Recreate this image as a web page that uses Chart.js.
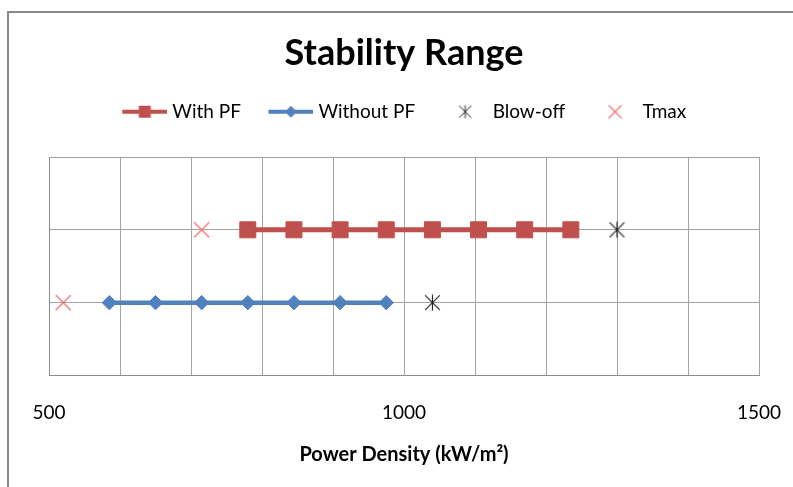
<!DOCTYPE html>
<html><head><meta charset="utf-8">
<script src="https://cdn.jsdelivr.net/npm/chart.js@4"></script>
<style>
html,body{margin:0;padding:0;background:#fff;overflow:hidden;width:793px;height:487px;}
#frame{position:absolute;left:7px;top:11px;width:900px;height:600px;border-left:2px solid #898989;border-top:2px solid #898989;}
#wrap{position:absolute;left:0;top:0;width:793px;height:487px;}
</style></head><body>
<div id="frame"></div>
<div id="wrap"><canvas id="c" width="793" height="487"></canvas></div>
<script>
// ---- data ----
const chartTitle = 'Stability Range';
const xAxisTitle = 'Power Density (kW/m²)';
const seriesNames = ['With PF', 'Without PF', 'Blow-off', 'Tmax'];
const withPF = [780, 845, 910, 975, 1040, 1105, 1170, 1235];
const withoutPF = [585, 650, 715, 780, 845, 910, 975];
const blowOff = [1300, 1040];
const tmax = [715, 520];
const rowLevels = [2, 1];          // row of "With PF", row of "Without PF"
const xTickLabels = [500, 1000, 1500];
const xMin = 500, xMax = 1500, xStep = 100;
const yMin = 0, yMax = 3;

// ---- styles ----
const RED = '#C0504D', BLUE = '#4F81BD', STAR = '#1A1A1A', TMAXC = '#F26A6A';
const FONT = 'Lato, "Open Sans", sans-serif';

function mk(w, h, draw) { const c = document.createElement('canvas'); c.width = w; c.height = h; draw(c.getContext('2d'), w, h); return c; }
function starImg(s, col, lw) {
  return mk(s, s, (g) => {
    g.strokeStyle = col; g.lineWidth = lw; g.beginPath();
    const c = s / 2, r = s / 2 - 0.5;
    g.moveTo(c, c - r); g.lineTo(c, c + r);
    const d = r * 0.92;
    g.moveTo(c - d, c - d); g.lineTo(c + d, c + d);
    g.moveTo(c - d, c + d); g.lineTo(c + d, c - d);
    g.stroke();
  });
}
function xImg(s, col, lw) {
  return mk(s, s, (g) => {
    g.strokeStyle = col; g.lineWidth = lw; g.beginPath();
    g.moveTo(1, 1); g.lineTo(s - 1, s - 1);
    g.moveTo(1, s - 1); g.lineTo(s - 1, 1);
    g.stroke();
  });
}
const starPoint = starImg(17, STAR, 1.1);
const xPoint = xImg(17, TMAXC, 1.3);

// legend symbols (content 45px wide, shifted so the text gap matches)
const LBW = 41, LW = 50, LH = 18;
function legLine(col, marker) {
  return mk(LW, LH, (g) => {
    g.strokeStyle = col; g.lineWidth = 4; g.beginPath();
    g.moveTo(5, LH / 2); g.lineTo(50, LH / 2); g.stroke();
    g.fillStyle = col; const cx = 27.5, cy = LH / 2;
    if (marker === 'rect') { g.fillRect(cx - 6, cy - 6, 12, 12); }
    else { g.beginPath(); g.moveTo(cx - 6, cy); g.lineTo(cx, cy - 6); g.lineTo(cx + 6, cy); g.lineTo(cx, cy + 6); g.closePath(); g.fill(); }
  });
}
function legMarker(img) {
  return mk(LW, LH, (g) => { g.drawImage(img, 27.5 - img.width / 2, LH / 2 - img.height / 2); });
}
const legendSymbols = [legLine(RED, 'rect'), legLine(BLUE, 'diamond'), legMarker(starImg(14, STAR, 1)), legMarker(xImg(15, TMAXC, 1.2))];

const pts = (xs, y) => xs.map(x => ({ x, y }));

new Chart(document.getElementById('c'), {
  type: 'scatter',
  data: {
    datasets: [
      { label: seriesNames[0], data: pts(withPF, rowLevels[0]), showLine: true, borderColor: RED, backgroundColor: RED, borderWidth: 5,
        pointStyle: 'rect', pointRadius: 11.3, pointBorderWidth: 1, pointBorderColor: RED, pointBackgroundColor: RED },
      { label: seriesNames[1], data: pts(withoutPF, rowLevels[1]), showLine: true, borderColor: BLUE, backgroundColor: BLUE, borderWidth: 4.5,
        pointStyle: 'rectRot', pointRadius: 7.2, pointBorderWidth: 1, pointBorderColor: BLUE, pointBackgroundColor: BLUE },
      { label: seriesNames[2], data: blowOff.map((x, i) => ({ x, y: rowLevels[i] })), showLine: false, pointStyle: starPoint, pointRadius: 8 },
      { label: seriesNames[3], data: tmax.map((x, i) => ({ x, y: rowLevels[i] })), showLine: false, pointStyle: xPoint, pointRadius: 8 }
    ]
  },
  options: {
    responsive: false, animation: false, devicePixelRatio: 1,
    layout: { padding: { left: 49, right: 34, top: 0, bottom: 0 } },
    plugins: {
      tooltip: { enabled: false },
      title: { display: true, text: chartTitle, color: '#000', font: { family: FONT, size: 36, weight: 'bold', lineHeight: 1.2 }, padding: { top: 32, bottom: 0 } },
      legend: {
        display: true, position: 'top',
        labels: {
          usePointStyle: true, pointStyleWidth: LBW, padding: 27, color: '#000',
          font: { family: FONT, size: 19 },
          generateLabels: (chart) => chart.data.datasets.map((ds, i) => ({
            text: ds.label, pointStyle: legendSymbols[i], fillStyle: 'transparent', strokeStyle: 'transparent', lineWidth: 0,
            hidden: false, datasetIndex: i, fontColor: '#000'
          }))
        }
      }
    },
    scales: {
      x: {
        type: 'linear', position: 'bottom', min: xMin, max: xMax,
        afterFit: (s) => { s.height = 111.5; s.paddingLeft = 0; s.paddingRight = 0; },
        ticks: { stepSize: xStep, padding: 26, color: '#000', font: { family: FONT, size: 19 }, maxRotation: 0, autoSkip: false,
          callback: (v) => xTickLabels.includes(v) ? String(v) : '' },
        grid: { color: '#A3A3A3', lineWidth: 1, drawTicks: false },
        border: { display: true, color: '#8C8C8C', width: 1 },
        title: { display: true, text: xAxisTitle, color: '#000', font: { family: FONT, size: 20, weight: 'bold', lineHeight: 1.2 }, padding: { top: 0, bottom: 20 } }
      },
      xTopSpacer: {
        type: 'linear', position: 'top', axis: 'x', min: 0, max: 1, display: true,
        afterFit: (s) => { s.height = 25.8; s.paddingLeft = 0; s.paddingRight = 0; },
        ticks: { display: false }, grid: { display: false, drawTicks: false }, border: { display: false }
      },
      y: {
        type: 'linear', min: yMin, max: yMax,
        afterFit: (s) => { s.width = 0; },
        ticks: { display: false, stepSize: 1 },
        grid: { color: '#A3A3A3', lineWidth: 1, drawTicks: false },
        border: { display: true, color: '#8C8C8C', width: 1 }
      }
    }
  }
});
</script>
</body></html>
